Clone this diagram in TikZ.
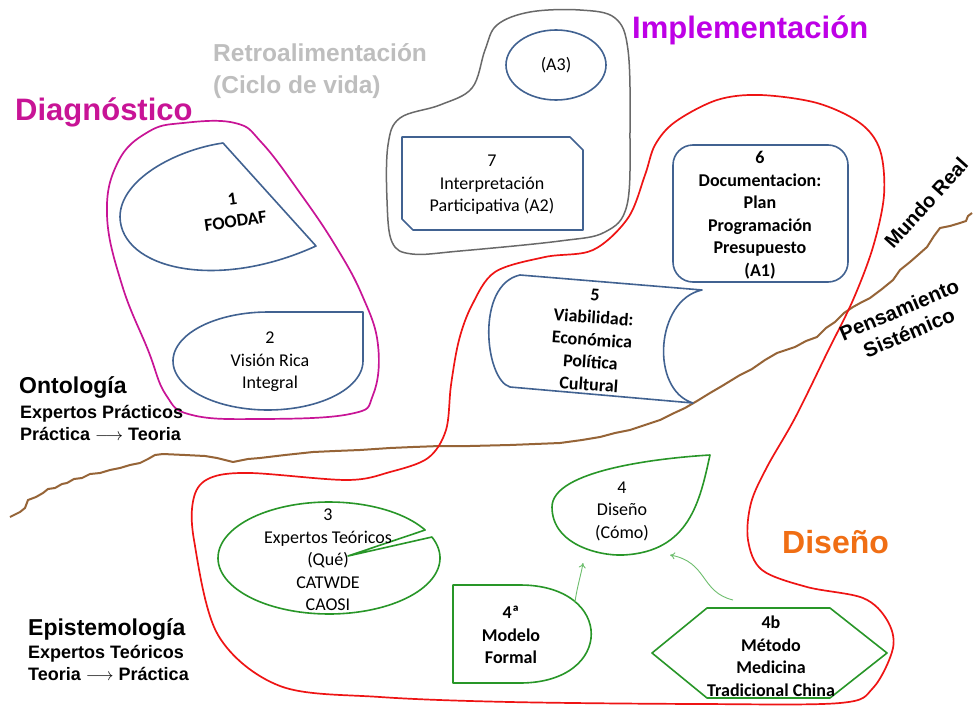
\documentclass[tikz,border=0pt]{standalone}
\usepackage{fontspec}
\setmainfont{Carlito}
\newfontfamily\hfont{Liberation Sans}
\usetikzlibrary{shapes.geometric,arrows.meta}

\definecolor{cblue}{RGB}{65,98,145}
\definecolor{cgreen}{RGB}{40,150,40}
\definecolor{cred}{RGB}{238,20,20}
\definecolor{cmagenta}{RGB}{200,20,150}
\definecolor{cviolet}{RGB}{190,0,230}
\definecolor{corange}{RGB}{240,110,20}
\definecolor{cgraytext}{RGB}{190,190,190}
\definecolor{cgrayline}{RGB}{105,105,105}
\definecolor{cbrown}{RGB}{150,100,55}
\definecolor{clightgreen}{RGB}{110,190,110}

\begin{document}
\begin{tikzpicture}[x=1pt,y=-1pt,
  outline/.style={line width=1.6pt, line join=round},
  blueshape/.style={outline, draw=cblue},
  greenshape/.style={outline, draw=cgreen},
  region/.style={line width=1.7pt},
  boxtext/.style={align=center, inner sep=0pt, font=\fontsize{18}{22.5}\selectfont},
  boldtext/.style={align=center, inner sep=0pt, font=\fontsize{18}{22.5}\selectfont\bfseries},
  heading/.style={inner sep=0pt, anchor=base west, font=\hfont\bfseries\fontsize{31}{36}\selectfont},
  subheading/.style={inner sep=0pt, anchor=base west, font=\hfont\bfseries\fontsize{23}{28}\selectfont},
  sidetext/.style={inner sep=0pt, anchor=base west, font=\hfont\bfseries\fontsize{18}{22}\selectfont},
  flow/.style={draw=clightgreen, line width=0.9pt, -{To[length=5pt,width=7pt]}}
]
\useasboundingbox[fill=white] (0,0) rectangle (974,709);

% ---------- boundary between real world and systems thinking ----------
\draw[cbrown, line width=2pt, line join=round]
  (10,517) -- (20,512) -- (25,508) -- (28,500) -- (36,497) -- (43,493) -- (48,489)
  -- (55,488) -- (62,484) -- (67,483) -- (74,479) -- (82,478) -- (90,474) -- (100,473)
  -- (110,470) -- (120,468) -- (130,465) -- (140,463) -- (148,459) -- (155,455)
  -- (163,454) -- (185,455) -- (205,456) -- (217,458) -- (233,462) -- (248,459)
  -- (260,458) -- (285,455) -- (313,452) -- (335,451) -- (360,450) -- (390,448)
  -- (413,447) -- (440,446) -- (470,446) -- (510,445) -- (535,444) -- (560,443)
  -- (582,440) -- (600,437) -- (615,433) -- (630,430) -- (645,425) -- (660,420)
  -- (672,414) -- (685,408) -- (697,401) -- (710,393) -- (722,386) -- (740,375)
  -- (752,369) -- (765,360) -- (777,353) -- (786,350) -- (795,347) -- (806,341)
  -- (817,337) -- (826,328) -- (835,322) -- (844,313) -- (853,307) -- (862,302)
  -- (870,298) -- (882,289) -- (893,280) -- (900,270) -- (910,262) -- (918,255)
  -- (927,247) -- (934,236) -- (940,228) -- (950,226) -- (960,223) -- (966,221)
  -- (968,216) -- (972,213);

% ---------- regions ----------
% Diagnostico
\draw[cmagenta, region] plot[smooth cycle, tension=0.7] coordinates {
  (183,123) (235,123) (262,143) (300,193) (335,245) (362,295) (378,345)
  (373,395) (350,414) (260,419) (192,415) (166,395) (148,350) (122,285)
  (107,215) (118,162) (148,132)};

% Retroalimentacion
\draw[cgrayline, line width=1.5pt] plot[smooth cycle, tension=0.6] coordinates {
  (497,25) (530,12) (580,10) (615,18) (628,50) (630,130) (627,205) (605,232)
  (560,241) (460,251) (412,254) (392,242) (387,200) (388,145) (400,118)
  (440,105) (472,88) (485,50)};

% Implementacion / Diseno
\draw[cred, region] plot[smooth cycle, tension=0.55] coordinates {
  (717,100) (760,95) (817,103) (860,123) (880,150) (884,195) (873,247)
  (853,300) (827,353) (795,418) (767,467) (751,503) (748,540) (762,570)
  (807,587) (863,598) (887,620) (893,648) (873,688) (840,703) (700,704)
  (510,702) (380,697) (280,686) (218,635) (194,540) (194,497) (210,478)
  (250,473) (347,480) (390,472) (428,458) (446,430) (451,385) (459,340)
  (472,305) (495,272) (545,257) (593,250) (628,218) (645,175) (655,145) (675,122)};

% ---------- shapes ----------
% 1 FOODAF
\draw[blueshape] (223,143) .. controls (175,150) and (120,180) .. (120,217)
  .. controls (121,268) and (215,292) .. (316,246) -- cycle;
\node[boldtext, rotate=8] (n1) at (234,210) {1\\FOODAF};

% 2 Vision Rica Integral
\draw[blueshape] (268,312) -- (363,312)
  -- plot[domain=0:270, samples=80, variable=\t] ({268+95*cos(\t)},{361+49*sin(\t)}) -- cycle;
\node[boxtext] (n2) at (270,362) {2\\Visión Rica\\Integral};

% A3
\node[draw=cblue, line width=1.6pt, ellipse, minimum width=100pt, minimum height=70pt,
  inner sep=0pt, font=\fontsize{18}{22.5}\selectfont] (a3) at (556,65) {(A3)};

% 7 Interpretacion participativa
\draw[blueshape] (402,137) -- (570,137) -- (583,150) -- (583,230) -- (413,230)
  -- (402,219) -- cycle;
\node[boxtext] (n7) at (492,185) {7\\Interpretación\\Participativa (A2)};

% 6 Documentacion
\draw[blueshape, rounded corners=20pt] (673,145) rectangle (848,282);
\node[boldtext] (n6) at (760,215) {6\\Documentacion:\\Plan\\Programación\\Presupuesto\\(A1)};

% 5 Viabilidad
\draw[blueshape] (520,275) -- (702,290) .. controls (655,300) and (650,390) .. (693,403)
  -- (510,387) .. controls (485,380) and (475,285) .. (520,275) -- cycle;
\node[boldtext, rotate=-4] (n5) at (592,340) {5\\Viabilidad:\\Económica\\Política\\Cultural};

% 3 Expertos teoricos
\draw[greenshape] (348,556)
  -- plot[domain=-22:330, samples=120, variable=\t] ({329+111*cos(\t)},{558+56*sin(\t)}) -- cycle;
\node[boxtext] (n3) at (328,560) {3\\Expertos Teóricos\\(Qué)\\CATWDE\\CAOSI};

% 4 Diseno (Como)
\draw[greenshape] (710,455) .. controls (660,458) and (552,470) .. (552,507)
  .. controls (552,545) and (600,556) .. (623,555)
  .. controls (690,552) and (700,500) .. (710,455) -- cycle;
\node[boxtext] (n4) at (622,511) {4\\Diseño\\(Cómo)};

% 4a Modelo formal
\draw[greenshape] (453,585) -- (520,585) .. controls (615,585) and (615,683) .. (520,683)
  -- (453,683) -- cycle;
\node[boldtext] (n4a) at (511,635) {4ª\\Modelo\\Formal};

% 4b Metodo
\draw[greenshape] (652,653) -- (707,608) -- (830,608) -- (887,653) -- (830,698)
  -- (707,698) -- cycle;
\node[boldtext] (n4b) at (771,656) {4b\\Método\\Medicina\\Tradicional China};

% ---------- connectors ----------
\coordinate (s4a) at (575,602);
\coordinate (e4a) at (583,563);
\coordinate (s4b) at (733,600);
\coordinate (e4b) at (670,555);
\draw[flow] (s4a) .. controls (577,587) and (581,575) .. (e4a);
\draw[flow] (s4b) .. controls (700,592) and (708,562) .. (e4b);

% ---------- labels ----------
\node[heading, text=cmagenta] (tdiag) at (15,120) {Diagnóstico};
\node[heading, text=cviolet] (timpl) at (632,38) {Implementación};
\node[heading, text=corange, font=\hfont\bfseries\fontsize{32}{36}\selectfont] (tdis) at (782,553) {Diseño};
\node[inner sep=0pt, anchor=base west, text=cgraytext, font=\hfont\bfseries\fontsize{24.5}{30}\selectfont]
  (tretro) at (213,62) {Retroalimentación};
\node[inner sep=0pt, anchor=base west, text=cgraytext, font=\hfont\bfseries\fontsize{24.5}{30}\selectfont]
  (tciclo) at (213,93) {(Ciclo de vida)};

\node[subheading] (tonto) at (19,393) {Ontología};
\node[sidetext] (tonto1) at (20,418) {Expertos Prácticos};
\node[sidetext] (tonto2) at (20,440) {Práctica \(\longrightarrow\) Teoria};

\node[subheading] (tepis) at (28,635) {Epistemología};
\node[sidetext] (tepis1) at (28,658) {Expertos Teóricos};
\node[sidetext] (tepis2) at (28,680) {Teoria \(\longrightarrow\) Práctica};

\node[inner sep=0pt, rotate=48, font=\hfont\bfseries\fontsize{20}{24}\selectfont] (tmundo) at (926,203) {Mundo Real};
\node[inner sep=0pt, rotate=23, align=center, font=\hfont\bfseries\fontsize{20.5}{25}\selectfont] (tpens) at (904,321) {Pensamiento\\Sistémico};

\end{tikzpicture}
\end{document}
